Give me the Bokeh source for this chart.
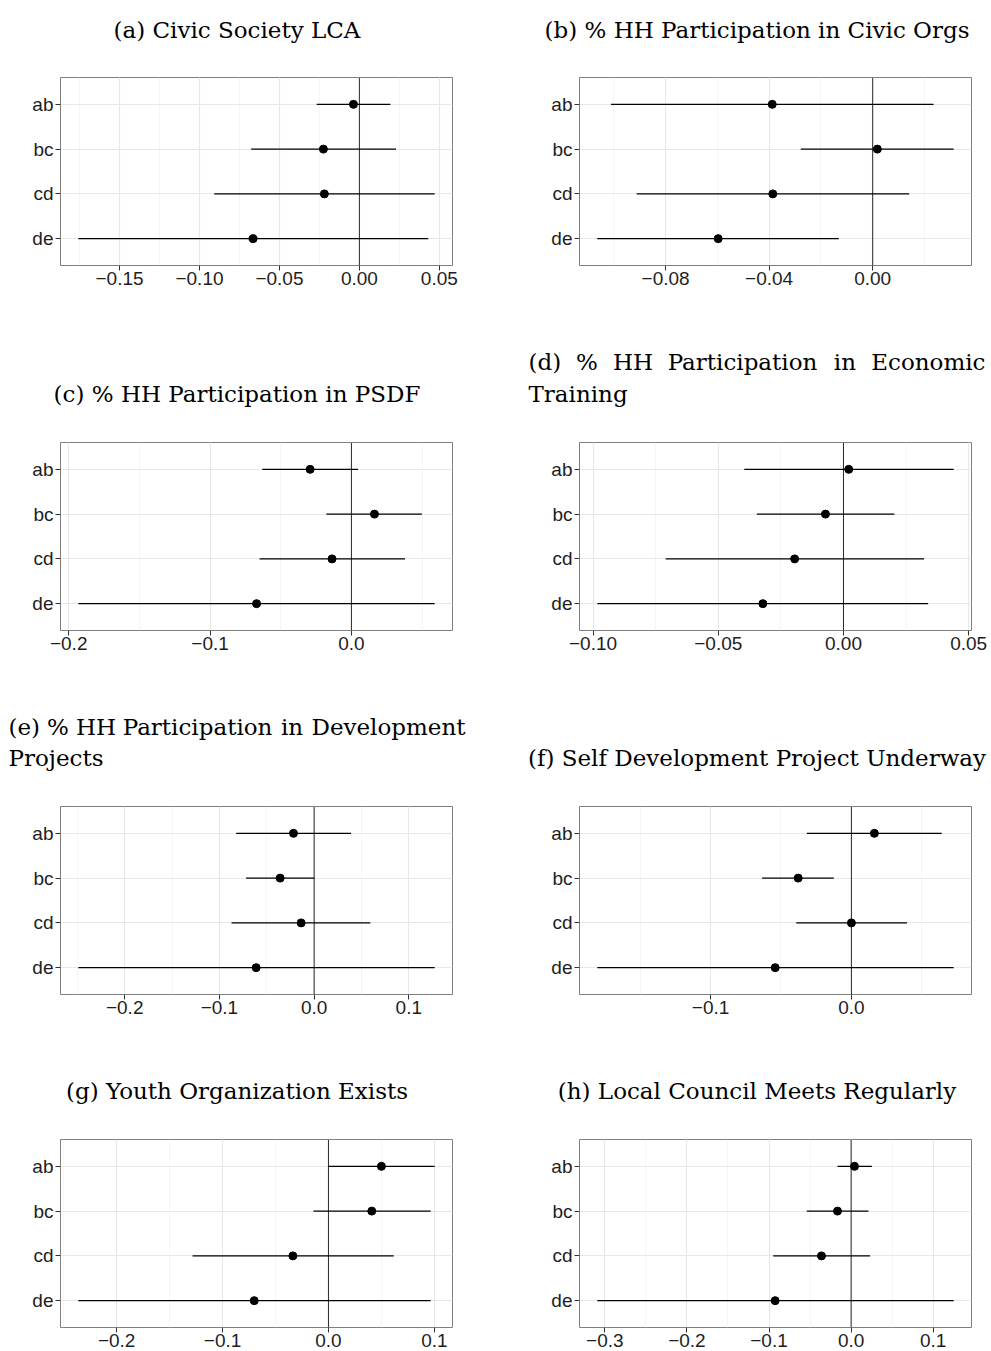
from bokeh.plotting import figure
from bokeh.layouts import column, row
from bokeh.models import Range1d, FactorRange, SingleIntervalTicker, CustomJSTickFormatter, Span
from bokeh.core.properties import value
from bokeh.embed import file_html
from bokeh.resources import INLINE

# ---------------- data ----------------
categories = ["ab", "bc", "cd", "de"]

title_a = ["(a) Civic Society LCA"]
title_b = ["(b) % HH Participation in Civic Orgs"]
title_c = ["(c) % HH Participation in PSDF"]
title_d = ["(d) % HH Participation in Economic", "Training"]
title_e = ["(e) % HH Participation in Development", "Projects"]
title_f = ["(f) Self Development Project Underway"]
title_g = ["(g) Youth Organization Exists"]
title_h = ["(h) Local Council Meets Regularly"]

a_est = [-0.0037, -0.0225, -0.0219, -0.0665]
a_lo = [-0.0267, -0.0677, -0.0908, -0.1758]
a_hi = [0.0194, 0.0229, 0.0471, 0.0431]

b_est = [-0.0388, 0.0018, -0.0386, -0.0597]
b_lo = [-0.1011, -0.0278, -0.0912, -0.1064]
b_hi = [0.0235, 0.0313, 0.0141, -0.0131]

c_est = [-0.0292, 0.0163, -0.0137, -0.0671]
c_lo = [-0.0631, -0.0177, -0.0650, -0.1932]
c_hi = [0.0047, 0.0499, 0.0379, 0.0589]

d_est = [0.0021, -0.0072, -0.0195, -0.0322]
d_lo = [-0.0396, -0.0346, -0.0710, -0.0983]
d_hi = [0.0440, 0.0203, 0.0322, 0.0338]

e_est = [-0.0218, -0.0359, -0.0137, -0.0612]
e_lo = [-0.0823, -0.0718, -0.0872, -0.2490]
e_hi = [0.0390, 0.0003, 0.0594, 0.1273]

f_est = [0.0163, -0.0378, 0.0000, -0.0541]
f_lo = [-0.0317, -0.0634, -0.0392, -0.1804]
f_hi = [0.0641, -0.0125, 0.0395, 0.0726]

g_est = [0.0500, 0.0409, -0.0336, -0.0701]
g_lo = [0.0000, -0.0142, -0.1283, -0.2362]
g_hi = [0.1003, 0.0965, 0.0616, 0.0965]

h_est = [0.0041, -0.0166, -0.0361, -0.0925]
h_lo = [-0.0166, -0.0540, -0.0949, -0.3091]
h_hi = [0.0252, 0.0211, 0.0231, 0.1249]

# x tick step and decimals per panel
tick_steps = [0.05, 0.04, 0.1, 0.05, 0.1, 0.1, 0.1, 0.1]
tick_decimals = [2, 2, 1, 2, 1, 1, 1, 1]

# ---------------- style / layout ----------------
TITLE_FONT = "DejaVu Serif"
TITLE_PX = 23
AXIS_FONT = "Liberation Sans"
AXIS_SIZE = "19px"
FULL_W = 991
COL_W = [500, 491]
BORDER_L = [60, 79]
BORDER_R = [48, 20]
FRAME_TOP = 12
FRAME_H = 188
ROW_BOTTOM = [35, 35, 36, 26]
CAP_L = [8, 465]      # left caption box
CAP_R = [528, 985]    # right caption box

# approximate DejaVu Serif advance widths (em) for justification
_W = {" ": .318, "%": .950, "(": .390, ")": .390, "a": .598, "b": .635, "c": .560,
      "d": .635, "e": .592, "g": .635, "i": .321, "l": .321, "m": .956, "n": .645,
      "o": .602, "p": .635, "r": .478, "s": .514, "t": .405, "v": .586,
      "E": .729, "H": .863, "P": .683, "D": .828}


def text_w(s):
    return sum(_W.get(ch, 0.6) for ch in s) * TITLE_PX


def panel(est, lo, hi, step, dec, col, rowi):
    span = max(hi) - min(lo)
    xmin = min(min(lo), 0) - 0.05 * span
    xmax = max(max(hi), 0) + 0.05 * span
    h = FRAME_TOP + FRAME_H + ROW_BOTTOM[rowi]
    p = figure(width=COL_W[col], height=h,
               x_range=Range1d(xmin, xmax),
               y_range=FactorRange(factors=list(reversed(categories)),
                                   range_padding=0.1, range_padding_units="absolute"),
               toolbar_location=None, output_backend="svg",
               min_border_left=BORDER_L[col], min_border_right=BORDER_R[col],
               min_border_top=FRAME_TOP, min_border_bottom=ROW_BOTTOM[rowi],
               background_fill_color="white", border_fill_color="white")
    p.outline_line_color = "#7F7F7F"
    p.outline_line_width = 1

    p.xaxis.ticker = SingleIntervalTicker(interval=step, num_minor_ticks=2)
    p.xaxis.formatter = CustomJSTickFormatter(args=dict(d=dec), code="""
        const v = Math.abs(tick) < 1e-9 ? 0 : tick;
        const s = Math.abs(v).toFixed(d);
        return (v < 0 ? '\u2212' : '') + s;
    """)
    for ax in (p.xaxis, p.yaxis):
        ax.axis_line_color = None
        ax.major_tick_in = 0
        ax.major_tick_out = 5
        ax.minor_tick_in = 0
        ax.minor_tick_out = 0
        ax.major_tick_line_color = "#333333"
        ax.major_tick_line_width = 1
        ax.major_label_text_font = AXIS_FONT
        ax.major_label_text_font_size = AXIS_SIZE
        ax.major_label_text_color = "#1E1E1E"
    p.xaxis.major_label_standoff = 1
    p.yaxis.major_label_standoff = 2

    p.xgrid.grid_line_color = "#E8E8E8"
    p.xgrid.grid_line_width = 1.2
    p.xgrid.minor_grid_line_color = "#F3F3F3"
    p.xgrid.minor_grid_line_width = 0.8
    p.ygrid.grid_line_color = "#E8E8E8"
    p.ygrid.grid_line_width = 1.2

    vline = Span(location=0, dimension="height", line_color="#2A2A2A", line_width=1, level="underlay")
    p.add_layout(vline)

    p.segment(x0=lo, y0=categories, x1=hi, y1=categories, line_color="black", line_width=1.4)
    p.scatter(x=est, y=categories, size=8, color="black")
    return p


def title_fig(h, items):
    t = figure(width=FULL_W, height=h, x_range=Range1d(0, FULL_W), y_range=Range1d(h, 0),
               toolbar_location=None, output_backend="svg", min_border=0,
               x_axis_location=None, y_axis_location=None,
               background_fill_color="white", border_fill_color="white")
    t.outline_line_color = None
    t.xgrid.visible = False
    t.ygrid.visible = False
    for align in ("left", "center", "right"):
        sel = [it for it in items if it[3] == align]
        if not sel:
            continue
        t.text(x=[s[1] for s in sel], y=[s[2] for s in sel], text=[s[0] for s in sel],
               text_font=value(TITLE_FONT), text_font_size=f"{TITLE_PX}px",
               text_align=align, text_baseline="alphabetic", text_color="black")
    return t


def centered(line, box, y):
    return [(line, (box[0] + box[1]) / 2, y, "center")]


def justified(line, box, y):
    words = line.split(" ")
    widths = [text_w(w) for w in words]
    gap = (box[1] - box[0] - sum(widths)) / (len(words) - 1)
    out = []
    x = box[0]
    for i, (w, ww) in enumerate(zip(words, widths)):
        if i == len(words) - 1:
            out.append((w, box[1], y, "right"))
        else:
            out.append((w, x, y, "left"))
        x += ww + gap
    return out


def left_line(line, box, y):
    return [(line, box[0], y, "left")]


t1 = title_fig(65, centered(title_a[0], CAP_L, 29) + centered(title_b[0], CAP_R, 29))
t2 = title_fig(130, centered(title_c[0], CAP_L, 93)
               + justified(title_d[0], CAP_R, 61.7) + left_line(title_d[1], CAP_R, 93))
t3 = title_fig(129, justified(title_e[0], CAP_L, 61.7) + left_line(title_e[1], CAP_L, 92.5)
               + centered(title_f[0], CAP_R, 92.5))
t4 = title_fig(97, centered(title_g[0], CAP_L, 60) + centered(title_h[0], CAP_R, 60))

pa = panel(a_est, a_lo, a_hi, tick_steps[0], tick_decimals[0], 0, 0)
pb = panel(b_est, b_lo, b_hi, tick_steps[1], tick_decimals[1], 1, 0)
pc = panel(c_est, c_lo, c_hi, tick_steps[2], tick_decimals[2], 0, 1)
pd = panel(d_est, d_lo, d_hi, tick_steps[3], tick_decimals[3], 1, 1)
pe = panel(e_est, e_lo, e_hi, tick_steps[4], tick_decimals[4], 0, 2)
pf = panel(f_est, f_lo, f_hi, tick_steps[5], tick_decimals[5], 1, 2)
pg = panel(g_est, g_lo, g_hi, tick_steps[6], tick_decimals[6], 0, 3)
ph = panel(h_est, h_lo, h_hi, tick_steps[7], tick_decimals[7], 1, 3)

layout = column(t1, row(pa, pb), t2, row(pc, pd), t3, row(pe, pf), t4, row(pg, ph))

open("out.html", "w").write(file_html(layout, INLINE))
